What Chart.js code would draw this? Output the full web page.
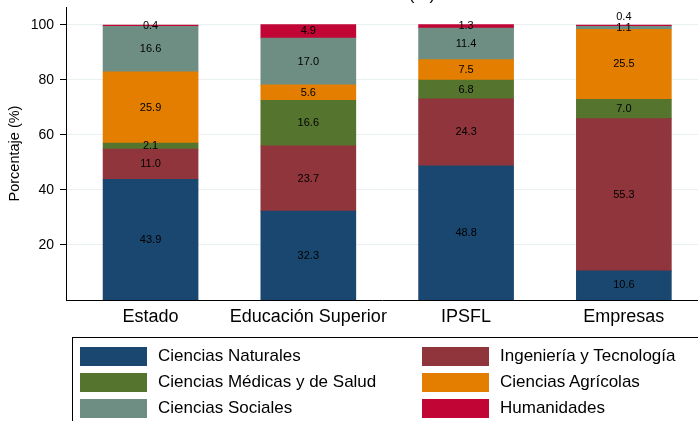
<!DOCTYPE html>
<html>
<head>
<meta charset="utf-8">
<script src="https://cdn.jsdelivr.net/npm/chart.js@4.4.1/dist/chart.umd.min.js"></script>
<style>
    body { margin: 0; background: #fff; }
    .wrap { position: relative; width: 698px; height: 421px; overflow: hidden; background: #fff; }
    .wrap canvas { position: absolute; left: 0; top: 0; }
    .legend__box {
        position: absolute; left: 72px; top: 337px; width: 640px; height: 100px;
        border: 1px solid #000; box-sizing: border-box;
        font-family: "Liberation Sans", Arial, sans-serif; font-size: 17px; color: #000;
    }
    .legend__item { position: absolute; height: 26px; line-height: 26px; white-space: nowrap; }
    .legend__swatch { position: absolute; left: 0; top: 4px; width: 67px; height: 19px; }
    .legend__label { position: absolute; left: 78px; top: 0; }
</style>
</head>
<body>
<div class="wrap">
    <canvas id="statChart" width="698" height="421"></canvas>
    <div class="legend__box"></div>
</div>
<script>
/* chart data */
const categories = ['Estado', 'Educación Superior', 'IPSFL', 'Empresas'];
const seriesNames = ['Ciencias Naturales', 'Ingeniería y Tecnología', 'Ciencias Médicas y de Salud',
    'Ciencias Agrícolas', 'Ciencias Sociales', 'Humanidades'];
const seriesColors = ['#1a476f', '#90353b', '#55752f', '#e37e00', '#6e8e84', '#c10534'];
const naturales = [43.9, 32.3, 48.8, 10.6];
const ingenieria = [11.0, 23.7, 24.3, 55.3];
const medicas = [2.1, 16.6, 6.8, 7.0];
const agricolas = [25.9, 5.6, 7.5, 25.5];
const sociales = [16.6, 17.0, 11.4, 1.1];
const humanidades = [0.4, 4.9, 1.3, 0.4];
const yTicks = [20, 40, 60, 80, 100];

const seriesValues = [naturales, ingenieria, medicas, agricolas, sociales, humanidades];
const font = '"Liberation Sans", Arial, sans-serif';

/* legend */
var legendInner = '';
seriesNames.forEach(function(name, i) {
    var col = i % 2, row = Math.floor(i / 2);
    legendInner += `
        <div class="legend__item" style="left:${col == 0 ? 7 : 349}px; top:${5 + row * 26}px;">
            <div class="legend__swatch" style="background:${seriesColors[i]};"></div>
            <div class="legend__label">${name}</div>
        </div>
    `;
});
document.querySelector('.legend__box').innerHTML = legendInner;

/* value labels inside the segments */
const segmentLabels = {
    id: 'segmentLabels',
    afterDatasetsDraw(chart) {
        const ctx = chart.ctx;
        ctx.save();
        ctx.font = '11px ' + font;
        ctx.fillStyle = '#000';
        ctx.textAlign = 'center';
        ctx.textBaseline = 'middle';
        categories.forEach(function(c, j) {
            var lastY = null;
            chart.data.datasets.forEach(function(ds, i) {
                const bar = chart.getDatasetMeta(i).data[j];
                var y = (bar.y + bar.base) / 2;
                if (lastY !== null && Math.abs(lastY - y) < 10) {
                    y = bar.y - 8;
                }
                ctx.fillText(ds.data[j].y.toFixed(1), bar.x, y);
                lastY = y;
            });
        });
        // title sliver cut by the top edge
        ctx.font = '17px ' + font;
        ctx.textBaseline = 'alphabetic';
        ctx.fillText('(%)', 422, 0);
        ctx.restore();
    }
};

const ctx = document.getElementById('statChart').getContext('2d');
const chart = new Chart(ctx, {
    type: 'bar',
    data: {
        datasets: seriesValues.map(function(vals, i) {
            return {
                label: seriesNames[i],
                backgroundColor: seriesColors[i],
                borderWidth: 0,
                barThickness: 95,
                data: vals.map(function(v, k) { return { x: k, y: v }; })
            };
        })
    },
    options: {
        responsive: false,
        animation: false,
        layout: { padding: { top: 7, right: 0, bottom: 0, left: 0 } },
        plugins: {
            legend: { display: false },
            tooltip: { enabled: false }
        },
        scales: {
            x: {
                type: 'linear',
                stacked: true,
                offset: false,
                min: -0.536,
                max: 3.47,
                afterBuildTicks: function(scale) {
                    scale.ticks = categories.map(function(c, i) { return { value: i }; });
                },
                afterFit: function(scale) {
                    scale.height = 121;
                    scale.paddingLeft = 0;
                    scale.paddingRight = 0;
                },
                grid: { display: false, offset: false, tickLength: 0 },
                border: { display: true, color: '#000', width: 1 },
                ticks: {
                    autoSkip: false,
                    maxRotation: 0,
                    padding: 6,
                    color: '#000',
                    font: { family: font, size: 18 },
                    callback: function(v) { return categories[v]; }
                }
            },
            y: {
                stacked: true,
                min: 0,
                max: 106.5,
                afterBuildTicks: function(scale) {
                    scale.ticks = yTicks.map(function(v) { return { value: v }; });
                },
                afterFit: function(scale) {
                    scale.width = 66;
                    scale.paddingTop = 0;
                    scale.paddingBottom = 0;
                },
                grid: { color: '#e9f0f2', tickColor: '#000', tickLength: 6, lineWidth: 1 },
                border: { display: true, color: '#000', width: 1 },
                ticks: {
                    padding: 6,
                    color: '#000',
                    font: { family: font, size: 14 }
                },
                title: {
                    display: true,
                    text: 'Porcentaje (%)',
                    color: '#000',
                    padding: { top: 6, bottom: 0 },
                    font: { family: font, size: 14.5 }
                }
            }
        }
    },
    plugins: [segmentLabels]
});
</script>
</body>
</html>
